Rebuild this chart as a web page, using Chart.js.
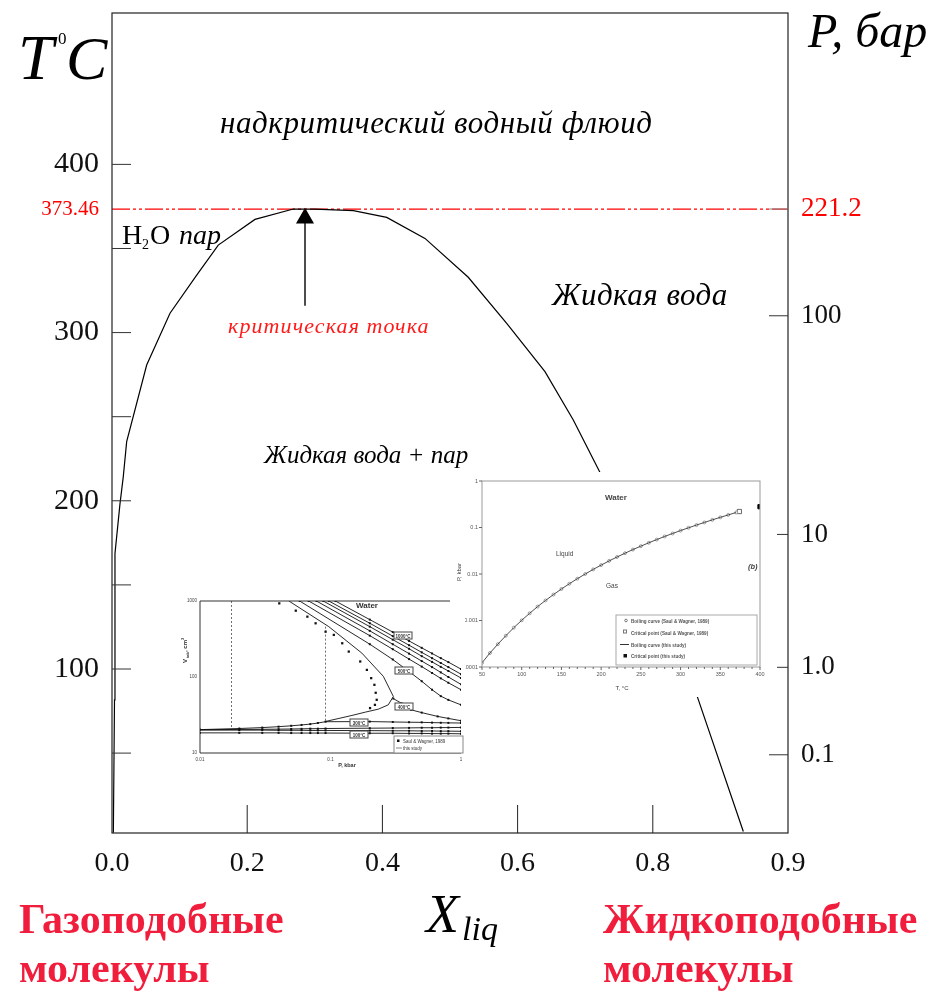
<!DOCTYPE html>
<html>
<head>
<meta charset="utf-8">
<script src="https://cdn.jsdelivr.net/npm/chart.js@4.4.1/dist/chart.umd.min.js"></script>
<style>
  body { margin: 0; background: #fff; }
  #wrap { position: relative; width: 939px; height: 993px; overflow: hidden; }
  #main { position: absolute; left: 0; top: 0; }
  .inset { position: absolute; background: #fff; }
</style>
</head>
<body>
<div id="wrap">
  <canvas id="main" width="939" height="993"></canvas>
  <div class="inset" style="left:455px;top:472px;width:322px;height:225px;z-index:2">
    <canvas id="insetB" width="322" height="225"></canvas>
  </div>
  <div class="inset" style="left:180px;top:590px;width:285px;height:182px;z-index:3">
    <canvas id="insetA" width="285" height="182"></canvas>
  </div>
</div>
<script>
// ---- main diagram: T vs X_liq ----
const domeX = [0.002, 0.0037, 0.0044, 0.0118, 0.0167, 0.0217, 0.0513, 0.0858, 0.1253, 0.1572, 0.2115, 0.2682,
               0.30, 0.357, 0.4064, 0.463, 0.527, 0.5839, 0.6405, 0.6824, 0.7219, 0.7914, 0.8624, 0.9339];
const domeT = [2.7, 81.7, 168.7, 198.2, 214.4, 235.2, 280.7, 311.5, 334.2, 352, 367.3, 373.46,
               373.46, 372.5, 368.5, 356, 332.9, 305.5, 276.8, 248, 216.8, 153, 87.6, 3.4];
const criticalT = 373.46;
const arrowX = 0.2855;
const arrowT = [316, 368];

const xTickValues = [0, 0.2, 0.4, 0.6, 0.8, 1.0];
const xTickLabels = ['0.0', '0.2', '0.4', '0.6', '0.8', '0.9'];
const tTickValues = [50, 100, 150, 200, 250, 300, 350, 373.46, 400];
const tTickLabels = ['', '100', '', '200', '', '300', '', '373.46', '400'];
const pTickTemps = [49, 101, 180, 310, 373.46];
const pTickLabels = ['0.1', '1.0', '10', '100', '221.2'];

// ---- inset (b): boiling curve P(T) ----
const boilT = [50, 60, 70, 80, 90, 100, 110, 120, 130, 140, 150, 160, 170, 180, 190, 200, 210, 220, 230, 240,
               250, 260, 270, 280, 290, 300, 310, 320, 330, 340, 350, 360, 370];
const boilP = [0.000123, 0.0002, 0.00031, 0.00047, 0.0007, 0.00101, 0.00143, 0.00199, 0.0027, 0.00361,
               0.00476, 0.00618, 0.00792, 0.01, 0.01255, 0.01554, 0.0191, 0.0232, 0.028, 0.0335,
               0.0397, 0.0469, 0.055, 0.0642, 0.0744, 0.0859, 0.0986, 0.1128, 0.1285, 0.146,
               0.1653, 0.1865, 0.2103];
const critSW = { x: 374, y: 0.2206 };
const critThis = { x: 400, y: 0.28 };

// ---- inset (a): isotherms V(P) ----
const isoP = [0.2, 0.3, 0.4, 0.5, 0.6, 0.7, 0.8, 1.0];
const iso1000 = [569, 390, 298, 242, 204, 177, 157, 127];
const iso900 = [510, 345, 262, 211, 177, 153, 135, 109];
const iso800 = [460, 310, 235, 188, 158, 136, 120, 97];
const iso700 = [405, 270, 203, 162, 135, 115, 100, 80];
const iso600 = [350, 232, 172, 137, 113, 96, 84, 68];
const iso500 = [270, 170, 118, 88, 68, 56, 50, 43];
const isoTopP = [0.109, 0.097, 0.088, 0.078, 0.068, 0.058];
const iso400P = [0.048, 0.097, 0.174, 0.254, 0.303, 0.277, 0.233, 0.185, 0.146, 0.116, 0.0916];
const iso400V = [1000, 460, 206, 102, 55.5, 43, 37.8, 34.5, 31.2, 28.5, 26];
const iso400hiP = [0.303, 0.35, 0.414, 0.5, 0.662, 0.8, 1.0];
const iso400hiV = [52, 45, 37, 34, 30.3, 28.5, 26.6];
const liqP = [0.01, 0.02, 0.03, 0.04, 0.05, 0.06, 0.07, 0.08, 0.0916, 0.2, 0.3, 0.4, 0.5, 0.6, 0.7, 0.8, 1.0];
const liq300 = [20.3, 21, 21.6, 22.2, 22.8, 23.4, 24, 24.8, 25.8, 25.9, 25.6, 25.4, 25.3, 25.1, 25, 24.9, 24.8];
const liq250 = [20.3, 20.4, 20.5, 20.6, 20.7, 20.8, 20.9, 20.9, 21, 21.2, 21.3, 21.4, 21.5, 21.5, 21.6, 21.6, 21.7];
const liq200 = [20, 20, 20, 19.9, 19.9, 19.9, 19.8, 19.8, 19.8, 19.7, 19.6, 19.6, 19.5, 19.5, 19.4, 19.4, 19.3];
const liq100 = [18.4, 18.4, 18.4, 18.4, 18.3, 18.3, 18.3, 18.3, 18.3, 18.2, 18.2, 18.1, 18.1, 18, 18, 18, 17.9];
const swP = [0.0405, 0.0542, 0.0665, 0.0769, 0.0917, 0.106, 0.123, 0.138, 0.169, 0.19, 0.205, 0.217, 0.222, 0.226, 0.219, 0.201];
const swV = [931, 746, 622, 509, 395, 358, 278, 216, 160, 124, 96.6, 78.9, 62, 50.1, 43, 39];
const tieP = [0.0174, 0.0916];

const serif = 'Liberation Serif, Times New Roman, serif';
const sans = 'Liberation Sans, Arial, sans-serif';
const red = '#f01e3c';

const pts = (xs, ys) => xs.map((x, i) => ({ x, y: ys[i] }));

function line(ctx, x1, y1, x2, y2) {
  ctx.beginPath(); ctx.moveTo(x1, y1); ctx.lineTo(x2, y2); ctx.stroke();
}
function txt(ctx, s, x, y, font, color, align) {
  ctx.font = font; ctx.fillStyle = color || '#000'; ctx.textAlign = align || 'left';
  ctx.textBaseline = 'alphabetic'; ctx.fillText(s, x, y);
}
// vertical axes: no extra room for half-height end labels
const noPadV = (w) => s => { s.width = w; s.paddingTop = 0; s.paddingBottom = 0; };
const noPadH = (h) => s => { s.height = h; s.paddingLeft = 0; s.paddingRight = 0; };

const mainDecor = {
  id: 'mainDecor',
  afterDraw(chart) {
    const { ctx, chartArea: a, scales } = chart;
    ctx.save();
    ctx.strokeStyle = '#222'; ctx.lineWidth = 1.2;
    ctx.strokeRect(a.left, a.top, a.right - a.left, a.bottom - a.top);
    ctx.strokeStyle = '#333'; ctx.lineWidth = 1;
    scales.y.ticks.forEach(t => {
      const y = scales.y.getPixelForValue(t.value);
      if (t.value === criticalT) return;
      line(ctx, a.left, y, a.left + 19, y);
    });
    scales.yP.ticks.forEach(t => {
      const y = scales.yP.getPixelForValue(t.value);
      ctx.strokeStyle = t.value === criticalT ? '#888' : '#333';
      line(ctx, a.right - 19, y, a.right, y);
    });
    ctx.strokeStyle = '#222';
    scales.x.ticks.forEach(t => {
      if (t.value <= 0 || t.value >= 1) return;
      const x = scales.x.getPixelForValue(t.value);
      line(ctx, x, a.bottom, x, a.bottom - 28);
    });

    // axis titles
    txt(ctx, 'T', 18, 79, `italic 64px ${serif}`);
    txt(ctx, '0', 58, 44, `17px ${serif}`);
    txt(ctx, 'C', 66, 79, `italic 62px ${serif}`);
    txt(ctx, 'P, бар', 808, 47, `italic 48px ${serif}`);
    txt(ctx, 'X', 426, 932, `italic 54px ${serif}`);
    txt(ctx, 'liq', 462, 940, `italic 34px ${serif}`);

    // region labels
    ctx.letterSpacing = '0.6px';
    txt(ctx, 'надкритический водный флюид', 220, 133, `italic 31px ${serif}`);
    ctx.letterSpacing = '0px';
    txt(ctx, 'H', 122, 244, `28px ${serif}`);
    txt(ctx, '2', 142, 249, `14px ${serif}`);
    txt(ctx, 'O', 150, 244, `28px ${serif}`);
    txt(ctx, 'пар', 179, 244, `italic 28px ${serif}`);
    ctx.letterSpacing = '1.1px';
    txt(ctx, 'критическая точка', 228, 333, `italic 22px ${serif}`, '#ff1a1a');
    ctx.letterSpacing = '0.5px';
    txt(ctx, 'Жидкая вода', 552, 305, `italic 31px ${serif}`);
    ctx.letterSpacing = '0px';
    txt(ctx, 'Жидкая вода + пар', 264, 463, `italic 25px ${serif}`);

    // bottom captions
    txt(ctx, 'Газоподобные', 19, 933, `bold 42px ${serif}`, red);
    txt(ctx, 'молекулы', 19, 982, `bold 42px ${serif}`, red);
    txt(ctx, 'Жидкоподобные', 603, 933, `bold 42px ${serif}`, red);
    txt(ctx, 'молекулы', 603, 982, `bold 42px ${serif}`, red);
    ctx.restore();
  }
};

new Chart(document.getElementById('main'), {
  type: 'scatter',
  data: {
    datasets: [
      { data: pts(domeX, domeT), showLine: true, borderColor: '#000', borderWidth: 1.2, pointRadius: 0, tension: 0 },
      { data: pts([0, 1], [criticalT, criticalT]), showLine: true, borderColor: '#ff0000', borderWidth: 1.2,
        borderDash: [18, 3, 3, 3, 3, 3], pointRadius: 0 },
      { data: pts([arrowX, arrowX], arrowT), showLine: true, borderColor: '#000', borderWidth: 1.4,
        pointRadius: [0, 9], pointStyle: 'triangle', pointBackgroundColor: '#000', pointBorderColor: '#000' }
    ]
  },
  options: {
    responsive: false, animation: false, devicePixelRatio: 1,
    layout: { padding: { top: 13, left: 0, right: 0, bottom: 0 } },
    plugins: { legend: { display: false }, tooltip: { enabled: false } },
    scales: {
      x: {
        type: 'linear', min: 0, max: 1,
        afterFit: noPadH(160),
        afterBuildTicks: s => { s.ticks = xTickValues.map(v => ({ value: v })); },
        ticks: { callback: (v, i) => xTickLabels[i], font: { family: serif, size: 28 }, color: '#111',
                 padding: 14, maxRotation: 0, autoSkip: false },
        grid: { display: false, drawTicks: false }, border: { display: false }
      },
      y: {
        type: 'linear', position: 'left', min: 2.5, max: 490,
        afterFit: noPadV(112),
        afterBuildTicks: s => { s.ticks = tTickValues.map(v => ({ value: v })); },
        ticks: { callback: (v, i) => tTickLabels[i], autoSkip: false, padding: 13,
                 font: c => ({ family: serif, size: c.tick && c.tick.value === criticalT ? 21 : 30 }),
                 color: c => (c.tick && c.tick.value === criticalT ? '#ff0000' : '#111') },
        grid: { display: false, drawTicks: false }, border: { display: false }
      },
      yP: {
        type: 'linear', position: 'right', min: 2.5, max: 490,
        afterFit: noPadV(151),
        afterBuildTicks: s => { s.ticks = pTickTemps.map(v => ({ value: v })); },
        ticks: { callback: (v, i) => pTickLabels[i], autoSkip: false, padding: 13,
                 font: { family: serif, size: 27 },
                 color: c => (c.tick && c.tick.value === criticalT ? '#ff0000' : '#111') },
        grid: { display: false, drawTicks: false }, border: { display: false }
      }
    }
  },
  plugins: [mainDecor]
});

// ---- inset (b) ----
const decorB = {
  id: 'decorB',
  afterDraw(chart) {
    const { ctx, chartArea: a, scales } = chart;
    ctx.save();
    ctx.strokeStyle = '#999'; ctx.lineWidth = 1;
    ctx.strokeRect(a.left, a.top, a.right - a.left, a.bottom - a.top);
    ctx.strokeStyle = '#666';
    for (let t = 50; t <= 400; t += 10) {
      const x = scales.x.getPixelForValue(t);
      line(ctx, x, a.bottom, x, a.bottom + (t % 50 === 0 ? 3 : 2));
    }
    scales.y.ticks.forEach(t => {
      const y = scales.y.getPixelForValue(t.value);
      line(ctx, a.left - 3, y, a.left, y);
    });
    const g = '#444';
    txt(ctx, 'Water', 150, 28, `bold 8px ${sans}`, g);
    txt(ctx, 'Liquid', 101, 84, `6.5px ${sans}`, g);
    txt(ctx, 'Gas', 151, 116, `6.5px ${sans}`, g);
    txt(ctx, '(b)', 293, 97, `bold italic 7.5px ${sans}`, g);
    txt(ctx, 'T, °C', 167, 218, `6px ${sans}`, g, 'center');
    ctx.save(); ctx.translate(6, 100); ctx.rotate(-Math.PI / 2);
    txt(ctx, 'P, kbar', 0, 0, `6px ${sans}`, g, 'center'); ctx.restore();
    // legend box
    ctx.strokeStyle = '#aaa'; ctx.strokeRect(161, 143, 141, 50);
    const f = `bold 4.6px ${sans}`, lg = '#555';
    ctx.strokeStyle = '#777';
    ctx.beginPath(); ctx.arc(171, 148.5, 1.3, 0, Math.PI * 2); ctx.stroke();
    txt(ctx, 'Boiling curve (Saul & Wagner, 1989)', 176, 150.5, f, lg);
    ctx.strokeRect(168.5, 158, 3, 3);
    txt(ctx, 'Critical point (Saul & Wagner, 1989)', 176, 162.5, f, lg);
    ctx.strokeStyle = '#333'; line(ctx, 165, 172.5, 174, 172.5);
    txt(ctx, 'Boiling curve (this study)', 176, 174.5, f, lg);
    ctx.fillStyle = '#111'; ctx.fillRect(168.5, 182, 3.5, 3.5);
    txt(ctx, 'Critical point (this study)', 176, 186, f, lg);
    ctx.restore();
  }
};

new Chart(document.getElementById('insetB'), {
  type: 'scatter',
  data: {
    datasets: [
      { data: pts(boilT, boilP), showLine: true, borderColor: '#222', borderWidth: 0.8, pointRadius: 0 },
      { data: pts(boilT, boilP), pointStyle: 'circle', pointRadius: 1.5, borderWidth: 0.6,
        pointBorderColor: '#666', pointBackgroundColor: '#fff' },
      { data: [critSW], pointStyle: 'rect', pointRadius: 3, pointBorderColor: '#444', pointBackgroundColor: '#fff', borderWidth: 0.8 },
      { data: [critThis], pointStyle: 'rect', pointRadius: 3, pointBorderColor: '#000', pointBackgroundColor: '#000' }
    ]
  },
  options: {
    responsive: false, animation: false, devicePixelRatio: 1,
    layout: { padding: { top: 9, right: 17, left: 0, bottom: 0 } },
    plugins: { legend: { display: false }, tooltip: { enabled: false } },
    scales: {
      x: {
        type: 'linear', min: 50, max: 400,
        afterFit: noPadH(30),
        ticks: { stepSize: 50, font: { family: sans, size: 5.5 }, color: '#555', padding: 4, maxRotation: 0 },
        grid: { display: false, drawTicks: false }, border: { display: false }
      },
      y: {
        type: 'logarithmic', min: 0.0001, max: 1,
        afterFit: noPadV(27),
        afterBuildTicks: s => { s.ticks = [0.0001, 0.001, 0.01, 0.1, 1].map(v => ({ value: v })); },
        ticks: { callback: v => String(v), font: { family: sans, size: 5.5 }, color: '#555', padding: 4 },
        grid: { display: false, drawTicks: false }, border: { display: false }
      }
    }
  },
  plugins: [decorB]
});

// ---- inset (a) ----
const decorA = {
  id: 'decorA',
  afterDraw(chart) {
    const { ctx, chartArea: a } = chart;
    ctx.save();
    ctx.strokeStyle = '#333'; ctx.lineWidth = 1;
    line(ctx, a.left, a.top, a.right - 11, a.top);
    line(ctx, a.left, a.top, a.left, a.bottom);
    line(ctx, a.left, a.bottom, a.right, a.bottom);
    const g = '#333';
    txt(ctx, 'Water', 187, 18, `bold 8px ${sans}`, g, 'center');
    txt(ctx, 'P, kbar', 167, 177, `bold 5.5px ${sans}`, g, 'center');
    ctx.save(); ctx.translate(7, 62); ctx.rotate(-Math.PI / 2);
    txt(ctx, 'V', -9, 0, `bold 6px ${sans}`, g, 'center');
    txt(ctx, 'tab', -3, 1.5, `bold 4px ${sans}`, g, 'center');
    txt(ctx, ', cm', 6, 0, `bold 6px ${sans}`, g, 'center');
    txt(ctx, '3', 13, -3, `bold 4px ${sans}`, g, 'center');
    ctx.restore();
    const box = (s, x, y) => {
      ctx.fillStyle = '#fff'; ctx.fillRect(x, y - 6, 18, 7);
      ctx.strokeStyle = '#444'; ctx.strokeRect(x, y - 6, 18, 7);
      txt(ctx, s, x + 9, y - 0.5, `bold 4.5px ${sans}`, g, 'center');
    };
    box('1000°C', 214, 48); box('500°C', 215, 83); box('400°C', 215, 119);
    box('300°C', 170, 135); box('100°C', 170, 147);
    ctx.fillStyle = '#fff'; ctx.fillRect(214, 146, 69, 17);
    ctx.strokeStyle = '#888'; ctx.strokeRect(214, 146, 69, 17);
    ctx.fillStyle = '#111'; ctx.fillRect(217, 149.5, 2.5, 2.5);
    txt(ctx, 'Saul & Wagner, 1989', 223, 152.5, `4.5px ${sans}`, g);
    line(ctx, 216, 158, 222, 158);
    txt(ctx, 'this study', 223, 160, `4.5px ${sans}`, g);
    ctx.restore();
  }
};

const isoLine = (xs, ys) => ({ data: pts(xs, ys), showLine: true, borderColor: '#111', borderWidth: 0.9,
  pointRadius: 1.4, pointStyle: 'rect', pointBackgroundColor: '#111', pointBorderWidth: 0 });
const gasIso = (i, vs) => isoLine([isoTopP[i], ...isoP], [1000, ...vs]);

new Chart(document.getElementById('insetA'), {
  type: 'scatter',
  data: {
    datasets: [
      gasIso(0, iso1000), gasIso(1, iso900), gasIso(2, iso800), gasIso(3, iso700),
      gasIso(4, iso600), gasIso(5, iso500),
      { ...isoLine(iso400P, iso400V), pointRadius: 0 },
      isoLine(iso400hiP, iso400hiV),
      isoLine(liqP, liq300), isoLine(liqP, liq250), isoLine(liqP, liq200), isoLine(liqP, liq100),
      { data: pts(swP, swV), pointStyle: 'rect', pointRadius: 1.6, pointBackgroundColor: '#111', pointBorderWidth: 0 },
      { data: pts([tieP[0], tieP[0]], [1000, 20.3]), showLine: true, borderColor: '#333', borderWidth: 0.7,
        borderDash: [2, 2], pointRadius: 0 },
      { data: pts([tieP[1], tieP[1]], [460, 25.8]), showLine: true, borderColor: '#333', borderWidth: 0.7,
        borderDash: [2, 2], pointRadius: 0 }
    ]
  },
  options: {
    responsive: false, animation: false, devicePixelRatio: 1,
    layout: { padding: { top: 11, right: 2, left: 0, bottom: 0 } },
    plugins: { legend: { display: false }, tooltip: { enabled: false } },
    scales: {
      x: {
        type: 'logarithmic', min: 0.01, max: 1,
        afterFit: noPadH(19),
        afterBuildTicks: s => { s.ticks = [0.01, 0.1, 1].map(v => ({ value: v })); },
        ticks: { callback: v => String(v), font: { family: sans, size: 4.5 }, color: '#444', padding: 4 },
        grid: { display: false, drawTicks: false }, border: { display: false }
      },
      y: {
        type: 'logarithmic', min: 10, max: 1000,
        afterFit: noPadV(20),
        afterBuildTicks: s => { s.ticks = [10, 100, 1000].map(v => ({ value: v })); },
        ticks: { callback: v => String(v), font: { family: sans, size: 4.5 }, color: '#444', padding: 3 },
        grid: { display: false, drawTicks: false }, border: { display: false }
      }
    }
  },
  plugins: [decorA]
});
</script>
</body>
</html>
